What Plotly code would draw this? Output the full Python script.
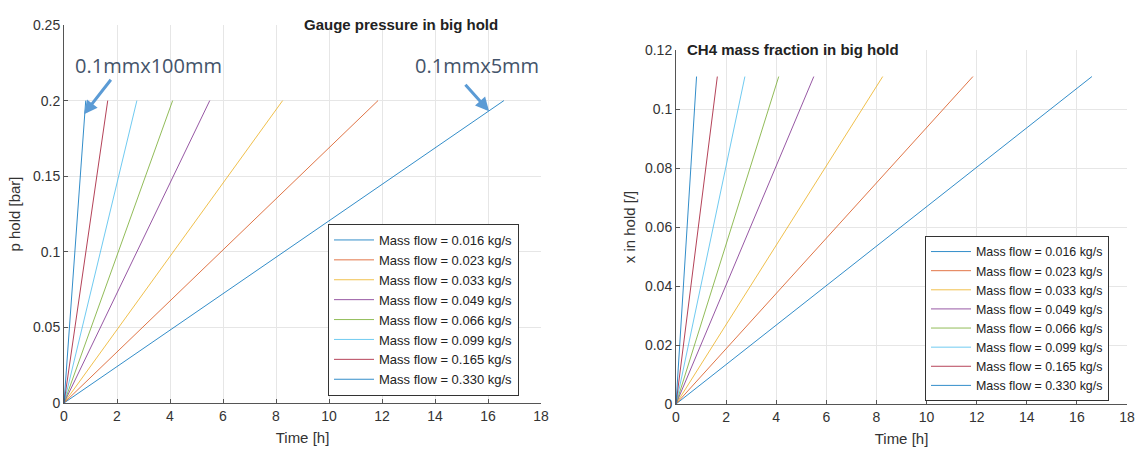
import plotly.graph_objects as go

# ---- data ----
mass_flows = ["0.016", "0.023", "0.033", "0.049", "0.066", "0.099", "0.165", "0.330"]
end_time_h = [16.6, 11.85, 8.25, 5.5, 4.1, 2.75, 1.65, 0.82]
p_end_bar = [0.2, 0.2, 0.2, 0.2, 0.2, 0.2, 0.2, 0.2]
x_end = [0.111, 0.111, 0.111, 0.111, 0.111, 0.111, 0.111, 0.111]
x_ticks = [0, 2, 4, 6, 8, 10, 12, 14, 16, 18]

colors = ["#0072BD", "#D95319", "#EDB120", "#7E2F8E", "#77AC30", "#4DBEEE", "#A2142F", "#0072BD"]

W, H = 1139, 452
def px_x(p): return p / W
def px_y(p): return 1 - p / H

fig = go.Figure()
for i, mf in enumerate(mass_flows):
    name = f"Mass flow = {mf} kg/s"
    fig.add_trace(go.Scatter(x=[0, end_time_h[i]], y=[0, p_end_bar[i]], mode="lines",
                             line=dict(color=colors[i], width=1), opacity=0.8,
                             name=name, xaxis="x", yaxis="y", legend="legend"))
for i, mf in enumerate(mass_flows):
    name = f"Mass flow = {mf} kg/s"
    fig.add_trace(go.Scatter(x=[0, end_time_h[i]], y=[0, x_end[i]], mode="lines",
                             line=dict(color=colors[i], width=1), opacity=0.8,
                             name=name, xaxis="x2", yaxis="y2", legend="legend2"))

axis_common = dict(showgrid=True, gridcolor="#e6e6e6", gridwidth=1, zeroline=False,
                   showline=True, linecolor="#555555", linewidth=1, automargin=False,
                   ticks="inside", ticklen=4, tickcolor="#555555",
                   tickfont=dict(family="Liberation Sans, Arial", size=14, color="#333333"),
                   title_font=dict(family="Liberation Sans, Arial", size=15, color="#333333"))

fig.update_layout(
    width=W, height=H, margin=dict(l=0, r=0, t=0, b=0),
    paper_bgcolor="white", plot_bgcolor="white",
    showlegend=True,
    xaxis=dict(domain=[px_x(64), px_x(541)], range=[0, 18], tickvals=x_ticks, anchor="y",
               title=dict(text="Time [h]", standoff=9), **axis_common),
    yaxis=dict(domain=[1 - 403 / H, 1 - 25 / H], range=[0, 0.25], dtick=0.05, anchor="x",
               title=dict(text="p hold [bar]", standoff=8), **axis_common),
    xaxis2=dict(domain=[px_x(676), px_x(1127)], range=[0, 18], tickvals=x_ticks, anchor="y2",
                title=dict(text="Time [h]", standoff=9), **axis_common),
    yaxis2=dict(domain=[1 - 404 / H, 1 - 50 / H], range=[0, 0.12], dtick=0.02, anchor="x2",
                title=dict(text="x in hold [/]", standoff=5), **axis_common),
    legend=dict(x=px_x(328), y=px_y(224), xanchor="left", yanchor="top",
                bgcolor="white", bordercolor="#333333", borderwidth=1,
                font=dict(family="Liberation Sans, Arial", size=13, color="#222222"),
                itemwidth=40, tracegroupgap=0),
    legend2=dict(x=px_x(925), y=px_y(236), xanchor="left", yanchor="top",
                 bgcolor="white", bordercolor="#333333", borderwidth=1,
                 font=dict(family="Liberation Sans, Arial", size=12.4, color="#222222"),
                 itemwidth=40, tracegroupgap=0),
)

title_font = dict(family="Liberation Sans, Arial", size=15, color="#222222")
fig.add_annotation(text="<b>Gauge pressure in big hold</b>", xref="paper", yref="paper",
                   x=px_x(302), y=px_y(14), showarrow=False, font=title_font)
fig.add_annotation(text="<b>CH4 mass fraction in big hold</b>", xref="paper", yref="paper",
                   x=px_x(901), y=px_y(39), showarrow=False, font=title_font)

# callout annotations
call_font = dict(family="Open Sans, Noto Sans", size=20, color="#44546A")
fig.add_annotation(text="0.1mmx100mm", xref="x", yref="y", x=3.2, y=0.223,
                   showarrow=False, font=call_font)
fig.add_annotation(text="0.1mmx5mm", xref="x", yref="y", x=15.6, y=0.223,
                   showarrow=False, font=call_font)
fig.add_annotation(text="", xref="x", yref="y", x=0.755, y=0.191, ax=28, ay=-36,
                   showarrow=True, arrowhead=2, arrowsize=0.9, arrowwidth=3, arrowcolor="#5B9BD5")
fig.add_annotation(text="", xref="x", yref="y", x=16.04, y=0.193, ax=-25, ay=-28,
                   showarrow=True, arrowhead=2, arrowsize=0.9, arrowwidth=3, arrowcolor="#5B9BD5")

fig.write_html("out.html", config={"displayModeBar": False},
               post_script="document.body.style.margin='0';document.body.style.padding='0';")
